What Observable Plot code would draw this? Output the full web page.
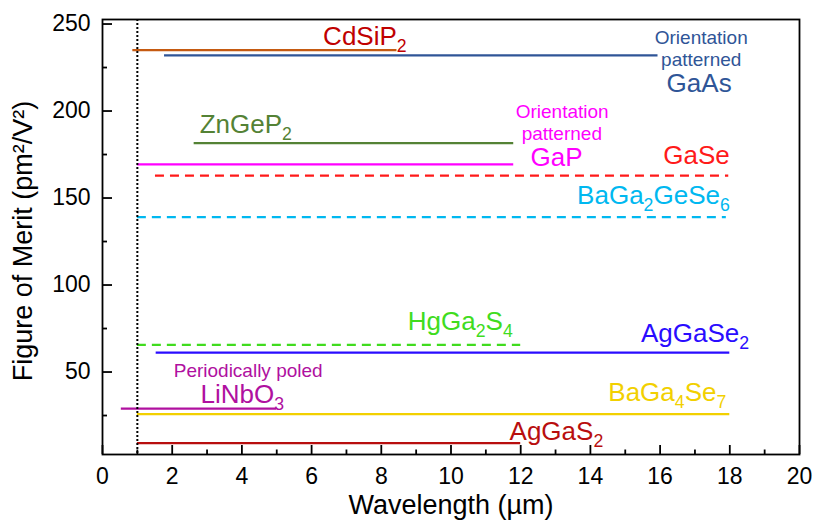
<!DOCTYPE html>
<html>
<head>
<meta charset="utf-8">
<script src="https://cdn.jsdelivr.net/npm/d3@7"></script>
<script src="https://cdn.jsdelivr.net/npm/@observablehq/plot@0.6"></script>
<style>
  html, body { margin: 0; padding: 0; background: #fff; }
  #chart svg { display: block; }
</style>
</head>
<body>
<div id="chart"></div>
<script>
// Nonlinear optical crystals: figure of merit vs. transparency/usable wavelength range
const materials = ["CdSiP2", "GaAs", "ZnGeP2", "GaP", "GaSe", "BaGa2GeSe6", "HgGa2S4", "AgGaSe2", "LiNbO3", "BaGa4Se7", "AgGaS2"];
const figureOfMerit = [235, 232, 181.5, 169.3, 162.9, 139, 65.6, 61.2, 29, 25.8, 9.1];   // pm²/V²
const rangeStart = [0.87, 1.78, 2.63, 1.0, 1.52, 1.0, 1.0, 1.54, 0.54, 1.0, 1.0];        // µm
const rangeEnd = [8.45, 15.94, 11.8, 11.8, 17.97, 17.9, 12.0, 18.0, 5.0, 18.0, 12.0];     // µm
const pumpWavelength = [1];                                                              // µm, dotted marker
const xTicks = [0, 2, 4, 6, 8, 10, 12, 14, 16, 18, 20];
const xMinorTicks = [1, 3, 5, 7, 9, 11, 13, 15, 17, 19];
const yTicks = [50, 100, 150, 200, 250];
const yMinorTicks = [25, 75, 125, 175, 225];

// Line and label styling per crystal
const style = {
  CdSiP2:     {stroke: "#c55a11", label: "#c00000", dashed: false},
  GaAs:       {stroke: "#2f5597", label: "#2f5597", dashed: false},
  ZnGeP2:     {stroke: "#548235", label: "#548235", dashed: false},
  GaP:        {stroke: "#ff00ff", label: "#ff00ff", dashed: false},
  GaSe:       {stroke: "#ff1a1a", label: "#ff1a1a", dashed: true},
  BaGa2GeSe6: {stroke: "#00b8f0", label: "#00b8f0", dashed: true},
  HgGa2S4:    {stroke: "#40dc1e", label: "#40dc1e", dashed: true},
  AgGaSe2:    {stroke: "#2a0cff", label: "#2a0cff", dashed: false},
  LiNbO3:     {stroke: "#b0109f", label: "#b0109f", dashed: false},
  BaGa4Se7:   {stroke: "#f2d000", label: "#f2d000", dashed: false},
  AgGaS2:     {stroke: "#b80e0e", label: "#b80e0e", dashed: false}
};

const rows = materials.map((m, i) => ({
  material: m, fom: figureOfMerit[i], start: rangeStart[i], end: rangeEnd[i], ...style[m]
}));

// Annotation placement (data coordinates); "_n" marks a subscript digit
const annotations = [
  {text: "CdSiP_2", x: 6.33, y: 238.2, anchor: "start", size: 26, m: "CdSiP2"},
  {text: "Orientation", x: 17.18, y: 238.6, anchor: "middle", size: 19, m: "GaAs"},
  {text: "patterned", x: 17.18, y: 225.6, anchor: "middle", size: 19, m: "GaAs"},
  {text: "GaAs", x: 17.12, y: 210.8, anchor: "middle", size: 26, m: "GaAs"},
  {text: "ZnGeP_2", x: 2.79, y: 187.5, anchor: "start", size: 26, m: "ZnGeP2"},
  {text: "Orientation", x: 13.19, y: 196.1, anchor: "middle", size: 19, m: "GaP"},
  {text: "patterned", x: 13.18, y: 183.1, anchor: "middle", size: 19, m: "GaP"},
  {text: "GaP", x: 13.03, y: 168.3, anchor: "middle", size: 26, m: "GaP"},
  {text: "GaSe", x: 18.0, y: 169.7, anchor: "end", size: 26, m: "GaSe"},
  {text: "BaGa_2GeSe_6", x: 18.0, y: 146.3, anchor: "end", size: 26, m: "BaGa2GeSe6"},
  {text: "HgGa_2S_4", x: 8.76, y: 74.3, anchor: "start", size: 26, m: "HgGa2S4"},
  {text: "AgGaSe_2", x: 15.45, y: 67.5, anchor: "start", size: 26, m: "AgGaSe2"},
  {text: "Periodically poled", x: 4.18, y: 47.0, anchor: "middle", size: 19, m: "LiNbO3"},
  {text: "LiNbO_3", x: 2.81, y: 32.1, anchor: "start", size: 26, m: "LiNbO3"},
  {text: "BaGa_4Se_7", x: 17.9, y: 33.1, anchor: "end", size: 26, m: "BaGa4Se7"},
  {text: "AgGaS_2", x: 11.68, y: 11.2, anchor: "start", size: 26, m: "AgGaS2"}
].map(d => ({...d, color: style[d.m].label}));

const labelMark = anchor => Plot.text(annotations.filter(d => d.anchor === anchor), {
  x: "x", y: "y", text: "text", fill: "color", fontSize: "size",
  textAnchor: anchor, lineAnchor: "bottom"
});

const plot = Plot.plot({
  width: 816,
  height: 524,
  marginLeft: 102,
  marginRight: 17,
  marginTop: 19,
  marginBottom: 70,
  x: {domain: [0, 20]},
  y: {domain: [2.6, 252.6]},
  color: {type: "identity"},
  style: {fontFamily: "'Liberation Sans', Arial, sans-serif", background: "#fff", color: "#000", overflow: "visible"},
  marks: [
    Plot.ruleY(rows.filter(d => !d.dashed), {y: "fom", x1: "start", x2: "end", stroke: "stroke", strokeWidth: 2.2}),
    Plot.ruleY(rows.filter(d => d.dashed), {y: "fom", x1: "start", x2: "end", stroke: "stroke", strokeWidth: 2.2, strokeDasharray: "9,6"}),
    Plot.ruleX(pumpWavelength, {x: d => d, stroke: "#000", strokeWidth: 2, strokeDasharray: "2,2"}),
    Plot.frame({stroke: "#000", strokeWidth: 1.8}),
    // inward ticks
    Plot.axisX(xTicks, {tickSize: -9, fill: "none", strokeWidth: 1.8, label: null}),
    Plot.axisX(xMinorTicks, {tickSize: -4.5, fill: "none", strokeWidth: 1.8, label: null}),
    Plot.axisY(yTicks, {tickSize: -10, fill: "none", strokeWidth: 1.8, label: null}),
    Plot.axisY(yMinorTicks, {tickSize: -5, fill: "none", strokeWidth: 1.8, label: null}),
    // tick labels
    Plot.axisX(xTicks, {tickSize: 0, tickPadding: 13, stroke: "none", fontSize: 23, label: null}),
    Plot.axisY(yTicks, {tickSize: 0, tickPadding: 12, stroke: "none", fontSize: 23, label: null}),
    // axis titles
    Plot.text(["Wavelength (µm)"], {frameAnchor: "bottom", textAnchor: "middle", lineAnchor: "bottom", dy: 59, fontSize: 27, fill: "#000"}),
    Plot.text(["Figure of Merit (pm²/V²)"], {frameAnchor: "left", textAnchor: "middle", rotate: -90, lineAnchor: "bottom", dx: -71, dy: 4, fontSize: 27, fill: "#000"}),
    labelMark("start"),
    labelMark("middle"),
    labelMark("end")
  ]
});

// Turn "_n" markers into subscript tspans
const ns = "http://www.w3.org/2000/svg";
plot.querySelectorAll("text").forEach(el => {
  if (!el.textContent.includes("_") || el.querySelector("tspan")) return;
  const size = parseFloat(getComputedStyle(el).fontSize) || 26;
  const shift = size * 0.27;
  const parts = el.textContent.split(/_(\d)/);
  el.textContent = "";
  parts.forEach((p, i) => {
    if (!p) return;
    const ts = document.createElementNS(ns, "tspan");
    ts.textContent = p;
    if (i % 2) {
      ts.setAttribute("font-size", (size * 0.68).toFixed(1));
      ts.setAttribute("dy", shift.toFixed(1));
    } else if (i > 0) {
      ts.setAttribute("dy", (-shift).toFixed(1));
    }
    el.appendChild(ts);
  });
});

document.getElementById("chart").appendChild(plot);
</script>
</body>
</html>
